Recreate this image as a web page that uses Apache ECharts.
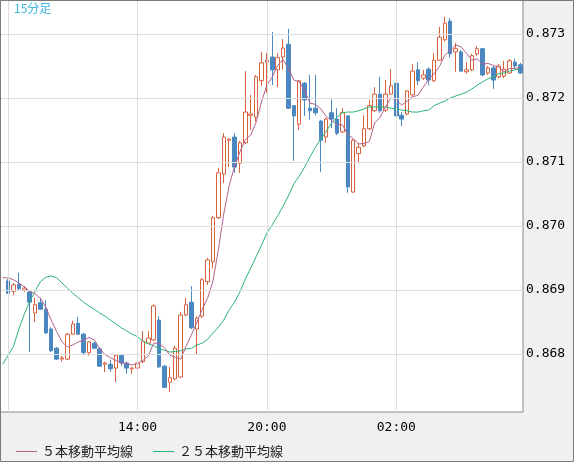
<!DOCTYPE html>
<html>
<head>
<meta charset="utf-8">
<script src="https://cdn.jsdelivr.net/npm/echarts@6.0.0/dist/echarts.min.js"></script>
<style>
html,body{margin:0;padding:0;background:#f0f0f0;}
#chart{width:574px;height:462px;}
</style>
</head>
<body>
<div id="chart"></div>
<script>
const categories = ['07:45',
'08:00','08:15','08:30','08:45','09:00','09:15','09:30','09:45','10:00','10:15','10:30','10:45',
'11:00','11:15','11:30','11:45','12:00','12:15','12:30','12:45','13:00','13:15','13:30','13:45',
'14:00','14:15','14:30','14:45','15:00','15:15','15:30','15:45','16:00','16:15','16:30','16:45',
'17:00','17:15','17:30','17:45','18:00','18:15','18:30','18:45','19:00','19:15','19:30','19:45',
'20:00','20:15','20:30','20:45','21:00','21:15','21:30','21:45','22:00','22:15','22:30','22:45',
'23:00','23:15','23:30','23:45','00:00','00:15','00:30','00:45','01:00','01:15','01:30','01:45',
'02:00','02:15','02:30','02:45','03:00','03:15','03:30','03:45','04:00','04:15','04:30','04:45',
'05:00','05:15','05:30','05:45','06:00','06:15','06:30','06:45','07:00','07:15','07:30','07:45'];

const shownTimes = ['14:00','20:00','02:00'];
const gridTimes = ['08:00','14:00','20:00','02:00'];
const yTicks = [0.868, 0.869, 0.870, 0.871, 0.872, 0.873];

const openV = [null,
0.86914,0.86898,0.86909,0.86900,0.86897,0.86864,0.86880,0.86870,0.86839,0.86809,
0.86792,0.86792,0.86831,0.86848,0.86831,0.86802,0.86817,0.86808,0.86784,0.86784,
0.86778,0.86798,0.86786,0.86777,0.86778,0.86788,0.86817,0.86822,0.86853,0.86781,
0.86756,0.86761,0.86764,0.86861,0.86881,0.86839,0.86859,0.86913,0.86944,0.87013,
0.87081,0.87134,0.87139,0.87098,0.87130,0.87173,0.87170,0.87227,0.87256,0.87264,
0.87244,0.87264,0.87284,0.87188,0.87159,0.87223,0.87184,0.87184,0.87164,0.87139,
0.87177,0.87167,0.87147,0.87172,0.87053,0.87113,0.87125,0.87152,0.87180,0.87206,
0.87181,0.87206,0.87223,0.87173,0.87175,0.87205,0.87244,0.87231,0.87245,0.87227,
0.87259,0.87291,0.87320,0.87272,0.87272,0.87241,0.87244,0.87269,0.87277,0.87239,
0.87247,0.87233,0.87234,0.87239,0.87256,0.87252];

const closeV = [null,
0.86895,0.86908,0.86902,0.86903,0.86881,0.86877,0.86870,0.86833,0.86805,0.86792,
0.86794,0.86831,0.86847,0.86831,0.86802,0.86819,0.86809,0.86781,0.86786,0.86777,
0.86798,0.86786,0.86778,0.86778,0.86786,0.86820,0.86825,0.86875,0.86780,0.86748,
0.86763,0.86809,0.86861,0.86877,0.86841,0.86856,0.86916,0.86947,0.87013,0.87083,
0.87139,0.87136,0.87092,0.87130,0.87178,0.87175,0.87233,0.87255,0.87259,0.87244,
0.87263,0.87278,0.87184,0.87172,0.87227,0.87197,0.87180,0.87177,0.87134,0.87167,
0.87167,0.87145,0.87177,0.87061,0.87134,0.87123,0.87152,0.87188,0.87206,0.87180,
0.87206,0.87219,0.87172,0.87167,0.87211,0.87242,0.87227,0.87236,0.87228,0.87259,
0.87295,0.87317,0.87269,0.87277,0.87242,0.87244,0.87266,0.87277,0.87236,0.87247,
0.87228,0.87250,0.87245,0.87258,0.87250,0.87239];

const lowV = [null,
0.86894,0.86892,0.86900,0.86897,0.86803,0.86850,0.86869,0.86831,0.86803,0.86791,
0.86788,0.86791,0.86830,0.86830,0.86800,0.86797,0.86808,0.86780,0.86772,0.86772,
0.86756,0.86781,0.86769,0.86769,0.86769,0.86786,0.86816,0.86820,0.86778,0.86747,
0.86741,0.86759,0.86763,0.86859,0.86839,0.86800,0.86856,0.86908,0.86934,0.87011,
0.87067,0.87092,0.87083,0.87083,0.87128,0.87150,0.87163,0.87219,0.87208,0.87220,
0.87217,0.87244,0.87183,0.87102,0.87150,0.87172,0.87166,0.87173,0.87084,0.87130,
0.87153,0.87142,0.87145,0.87052,0.87052,0.87098,0.87123,0.87150,0.87178,0.87177,
0.87178,0.87205,0.87163,0.87156,0.87173,0.87202,0.87220,0.87228,0.87220,0.87225,
0.87258,0.87288,0.87263,0.87241,0.87241,0.87238,0.87242,0.87266,0.87234,0.87236,
0.87214,0.87231,0.87231,0.87238,0.87247,0.87238];

const highV = [null,
0.86917,0.86911,0.86927,0.86906,0.86898,0.86888,0.86888,0.86884,0.86842,0.86811,
0.86797,0.86833,0.86852,0.86858,0.86833,0.86820,0.86819,0.86811,0.86788,0.86791,
0.86800,0.86800,0.86788,0.86780,0.86791,0.86836,0.86836,0.86878,0.86859,0.86783,
0.86780,0.86813,0.86866,0.86888,0.86906,0.86859,0.86919,0.86950,0.87016,0.87091,
0.87145,0.87137,0.87145,0.87133,0.87242,0.87205,0.87236,0.87272,0.87270,0.87303,
0.87270,0.87292,0.87308,0.87189,0.87228,0.87225,0.87236,0.87236,0.87166,0.87169,
0.87198,0.87184,0.87184,0.87173,0.87136,0.87130,0.87173,0.87197,0.87217,0.87233,
0.87228,0.87245,0.87236,0.87178,0.87212,0.87253,0.87256,0.87244,0.87248,0.87270,
0.87311,0.87327,0.87325,0.87286,0.87275,0.87256,0.87269,0.87281,0.87278,0.87250,
0.87250,0.87253,0.87258,0.87261,0.87261,0.87255];

const ma5 = [0.86919,
0.86919,0.86916,0.86911,0.86905,0.86898,0.86894,0.86887,0.86873,0.86853,0.86835,
0.86819,0.86811,0.86814,0.86819,0.86821,0.86826,0.86822,0.86808,0.86799,0.86794,
0.86790,0.86786,0.86785,0.86783,0.86785,0.86790,0.86797,0.86817,0.86817,0.86810,
0.86798,0.86795,0.86792,0.86812,0.86830,0.86849,0.86870,0.86887,0.86914,0.86963,
0.87019,0.87063,0.87093,0.87116,0.87135,0.87142,0.87162,0.87194,0.87220,0.87233,
0.87251,0.87260,0.87246,0.87228,0.87225,0.87212,0.87192,0.87190,0.87183,0.87171,
0.87165,0.87158,0.87158,0.87143,0.87137,0.87128,0.87129,0.87132,0.87161,0.87170,
0.87186,0.87200,0.87197,0.87189,0.87195,0.87202,0.87204,0.87217,0.87229,0.87238,
0.87249,0.87267,0.87274,0.87283,0.87280,0.87270,0.87259,0.87261,0.87253,0.87254,
0.87251,0.87248,0.87241,0.87246,0.87246,0.87248];

const ma25 = [0.86784,
0.86798,0.86812,0.86839,0.86862,0.86882,0.86898,0.86913,0.86920,0.86922,0.86919,
0.86911,0.86903,0.86895,0.86888,0.86881,0.86875,0.86870,0.86864,0.86859,0.86853,
0.86847,0.86841,0.86836,0.86831,0.86827,0.86820,0.86816,0.86813,0.86808,0.86806,
0.86803,0.86804,0.86805,0.86808,0.86809,0.86814,0.86817,0.86823,0.86833,0.86842,
0.86853,0.86869,0.86881,0.86897,0.86917,0.86934,0.86952,0.86970,0.86989,0.87002,
0.87016,0.87031,0.87047,0.87066,0.87078,0.87092,0.87108,0.87123,0.87136,0.87148,
0.87161,0.87170,0.87177,0.87178,0.87178,0.87180,0.87183,0.87186,0.87186,0.87186,
0.87186,0.87184,0.87183,0.87181,0.87180,0.87178,0.87178,0.87180,0.87181,0.87188,
0.87192,0.87195,0.87200,0.87203,0.87206,0.87209,0.87214,0.87220,0.87225,0.87230,
0.87233,0.87238,0.87239,0.87242,0.87244,0.87245];

const candleData = openV.map((o, i) => o == null ? '-' : [o, closeV[i], lowV[i], highV[i]]);

const chart = echarts.init(document.getElementById('chart'), null, {renderer: 'canvas'});
const monoFont = '"DejaVu Sans Mono", "Liberation Mono", monospace';
const jpFont = '"Noto Sans CJK JP", "Noto Sans", sans-serif';

const gridLineStyle = {color: '#dddddd', width: 1, type: 'solid'};
const markLines = gridTimes.map(t => ({xAxis: t, label: {show: false}}))
  .concat(yTicks.map(v => ({
    yAxis: v,
    label: {
      show: true, position: 'end', distance: 3,
      formatter: v.toFixed(3),
      color: '#000', fontSize: 13, fontFamily: monoFont
    }
  })));

chart.setOption({
  animation: false,
  backgroundColor: '#f0f0f0',
  title: {
    text: '15分足',
    left: 14, top: 2, padding: 0,
    textStyle: {color: '#3cb4e6', fontSize: 12, fontWeight: 'normal', fontFamily: jpFont}
  },
  legend: {
    data: [{name: '５本移動平均線', icon: 'rect'}, {name: '２５本移動平均線', icon: 'rect'}],
    left: 16, top: 445, padding: 0,
    itemWidth: 21, itemHeight: 1, itemGap: 20,
    textStyle: {color: '#222', fontSize: 13, fontFamily: jpFont},
    selectedMode: false
  },
  grid: {
    left: 0, right: 51, top: 0, bottom: 50,
    show: true, backgroundColor: '#ffffff', borderColor: '#8a8a8a', borderWidth: 1,
    containLabel: false
  },
  xAxis: {
    type: 'category',
    data: categories,
    boundaryGap: true,
    axisLine: {show: false},
    axisTick: {show: false},
    splitLine: {show: false},
    axisLabel: {
      interval: (idx, val) => shownTimes.indexOf(val) >= 0,
      margin: 9,
      color: '#000', fontSize: 13, fontFamily: monoFont
    }
  },
  yAxis: {
    type: 'value',
    position: 'right',
    scale: true,
    min: 0.867094,
    max: 0.873531,
    axisLine: {show: false},
    axisTick: {show: false},
    splitLine: {show: false},
    axisLabel: {show: false}
  },
  series: [
    {
      name: 'grid', type: 'line', data: [], silent: true, z: 1,
      markLine: {
        silent: true, symbol: 'none', precision: 3,
        lineStyle: gridLineStyle,
        data: markLines
      }
    },
    {
      name: 'candle', type: 'candlestick', data: candleData, z: 2,
      barWidth: 4,
      itemStyle: {
        color: '#ffffff', color0: '#4b87c0',
        borderColor: '#d8623f', borderColor0: '#4b87c0', borderWidth: 1
      }
    },
    {
      name: '２５本移動平均線', type: 'line', data: ma25, z: 3,
      symbol: 'none', showSymbol: false,
      lineStyle: {color: '#2bb673', width: 1}, itemStyle: {color: '#2bb673'}
    },
    {
      name: '５本移動平均線', type: 'line', data: ma5, z: 3,
      symbol: 'none', showSymbol: false,
      lineStyle: {color: '#b5628c', width: 1}, itemStyle: {color: '#b5628c'}
    }
  ],
  graphic: [{
    type: 'rect', silent: true, z: 100,
    shape: {x: 0.5, y: 0.5, width: 573, height: 461},
    style: {fill: 'none', stroke: '#7a7a7a', lineWidth: 1}
  }]
});
</script>
</body>
</html>
